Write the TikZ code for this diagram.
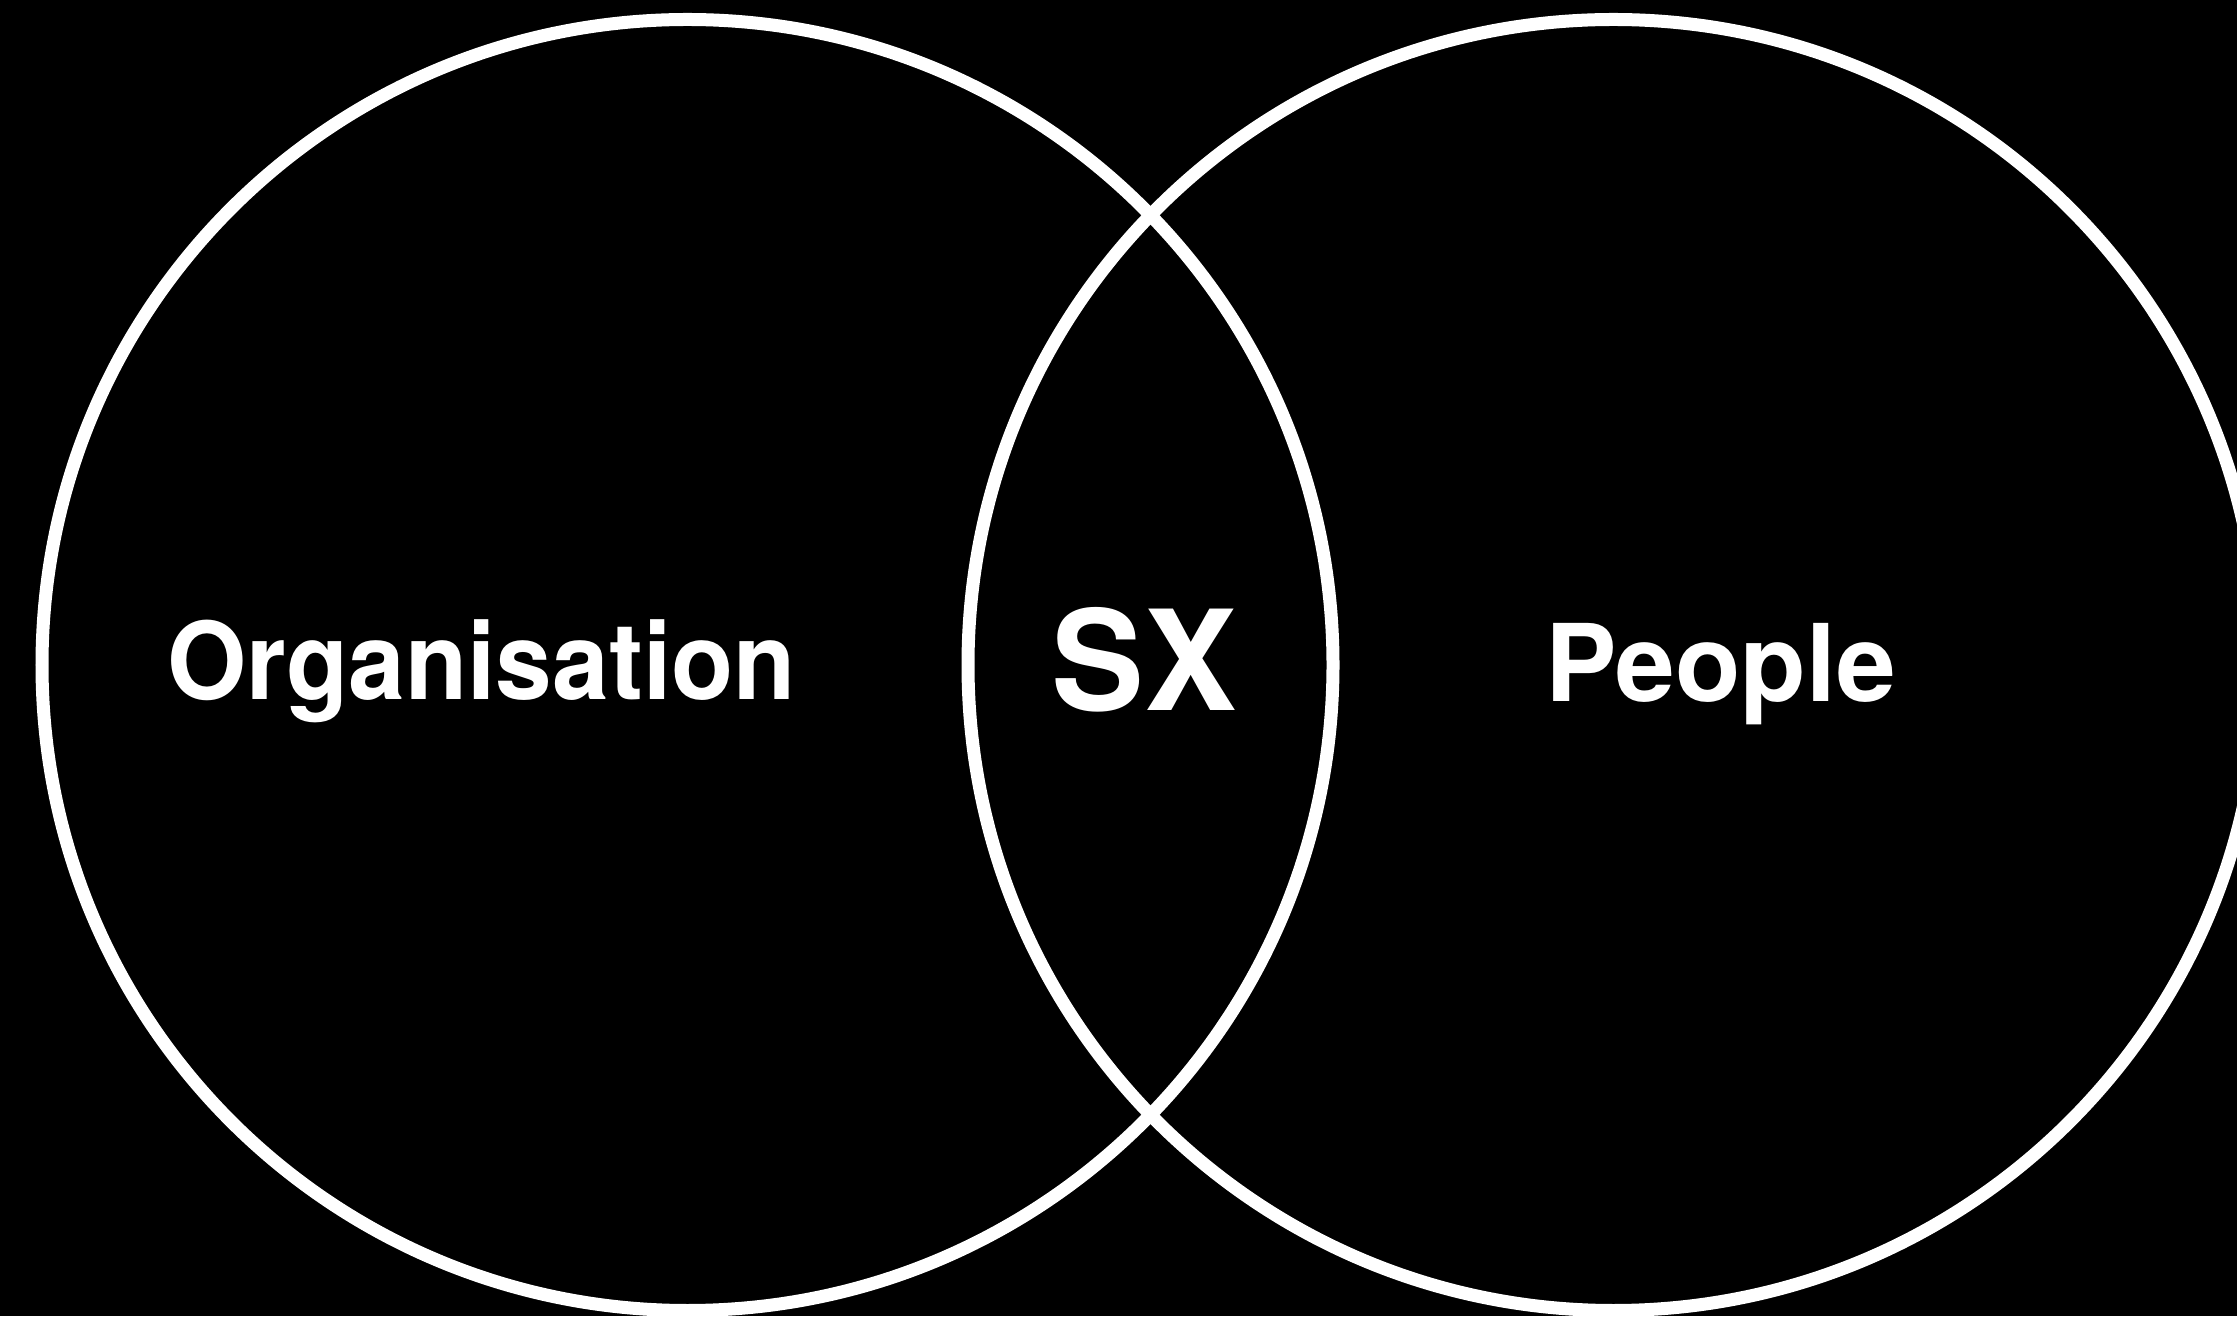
\documentclass[tikz,border=0pt]{standalone}
\usepackage{fontspec}
\setsansfont{TeX Gyre Heros}
\newfontfamily\narrowfont{TeX Gyre Heros}[FakeStretch=0.95]
\usetikzlibrary{
    positioning,
    calc
}
\tikzset{
    % --- Set outline (white ring on black) ---
    set ring/.style = {
        circle, draw=white, line width=0.13cm,
        minimum size=12.91cm, inner sep=0pt
    },
    % --- Set name ---
    set label/.style = {
        text=white, inner sep=0pt, anchor=base,
        font=\sffamily\bfseries\fontsize{30.5}{30.5}\selectfont
    },
    % --- Overlap name ---
    overlap label/.style = {
        set label,
        font=\sffamily\bfseries\fontsize{39.6}{39.6}\selectfont
    }
}

\begin{document}
\begin{tikzpicture}

% ---------------------------------------------------------
% Canvas
% ---------------------------------------------------------
\fill[black] (0,0) rectangle (22.37,13.16);
\useasboundingbox (0,0) rectangle (22.37,13.16);

% ---------------------------------------------------------
% The two sets
% ---------------------------------------------------------
\node[set ring] (Org) at (6.875, 6.51) {};
\node[set ring] (People) at (16.135, 6.51) {};

% ---------------------------------------------------------
% Labels
% ---------------------------------------------------------
\node[set label, font=\narrowfont\bfseries\fontsize{30.5}{30.5}\selectfont]
    (OrgLabel) at ($(Org.center) + (-2.06, -0.35)$) {Organisation};
\node[set label] (PeopleLabel) at ($(People.center) + (1.07, -0.37)$) {People};
\node[overlap label] (SX) at ($(Org.center)!0.5!(People.center) + (-0.065, -0.46)$) {SX};

\end{tikzpicture}
\end{document}
